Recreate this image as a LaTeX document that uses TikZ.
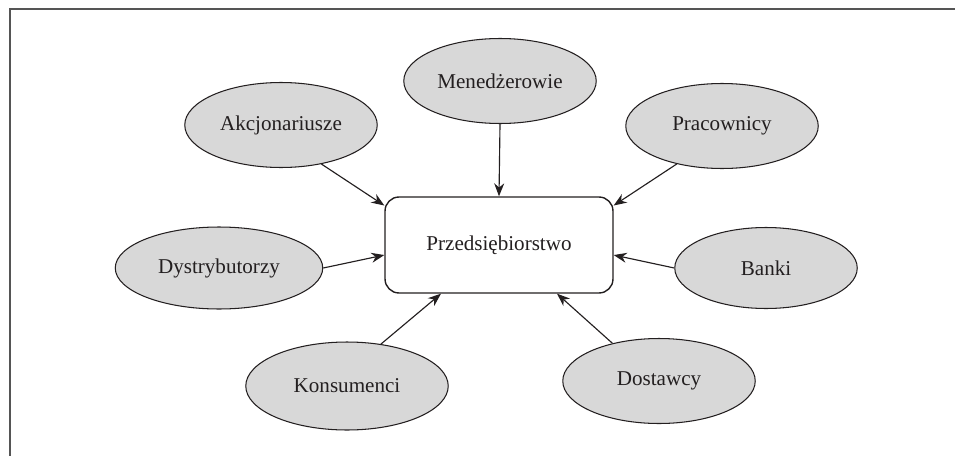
\documentclass[tikz,border=0pt]{standalone}
\usepackage{fontspec}
\setmainfont{Liberation Serif}
\usetikzlibrary{arrows.meta,shapes.geometric}
\definecolor{ellgray}{RGB}{216,216,216}
\definecolor{ink}{RGB}{35,31,32}
\definecolor{framegray}{RGB}{85,85,85}
\begin{document}
\begin{tikzpicture}[x=0.02cm, y=-0.02cm, every node/.style={font=\fontsize{12}{14}\selectfont, text=ink},
  grupa/.style={draw=ink, line width=0.6pt, fill=ellgray, ellipse, inner sep=0pt, minimum width=3.85cm, minimum height=1.7cm},
  strzalka/.style={-{Stealth[length=2.6mm, width=2mm]}, line width=0.65pt, ink}]
\useasboundingbox (0,0) rectangle (955,456);
\draw[framegray, line width=0.85pt] (955,9) -- (10,9) -- (10,456);
\node[draw=ink, line width=0.8pt, fill=white, rounded corners=0.28cm, minimum width=4.56cm, minimum height=1.92cm] (firma) at (499,245) {Przedsiębiorstwo};
\node[grupa] (men) at (500,81) {Menedżerowie};
\node[grupa] (akc) at (281,125) {Akcjonariusze};
\node[grupa] (pra) at (722,126) {Pracownicy};
\node[grupa, minimum width=4.15cm, minimum height=1.64cm] (dys) at (219,268) {Dystrybutorzy};
\node[grupa, minimum width=3.65cm, minimum height=1.62cm] (ban) at (766,268) {Banki};
\node[grupa, minimum width=4.05cm, minimum height=1.76cm] (kon) at (347,386) {Konsumenci};
\node[grupa] (dos) at (659,381) {Dostawcy};
\draw[strzalka] (men.south) -- (firma.north);
\draw[strzalka] (akc.316) -- (firma.161);
\draw[strzalka] (pra.220) -- (firma.19);
\draw[strzalka] (dys.east) -- (firma.185);
\draw[strzalka] (ban.west) -- (firma.355);
\draw[strzalka] (kon.51) -- (firma.220);
\draw[strzalka] (dos.141) -- (firma.320);
\end{tikzpicture}
\end{document}
